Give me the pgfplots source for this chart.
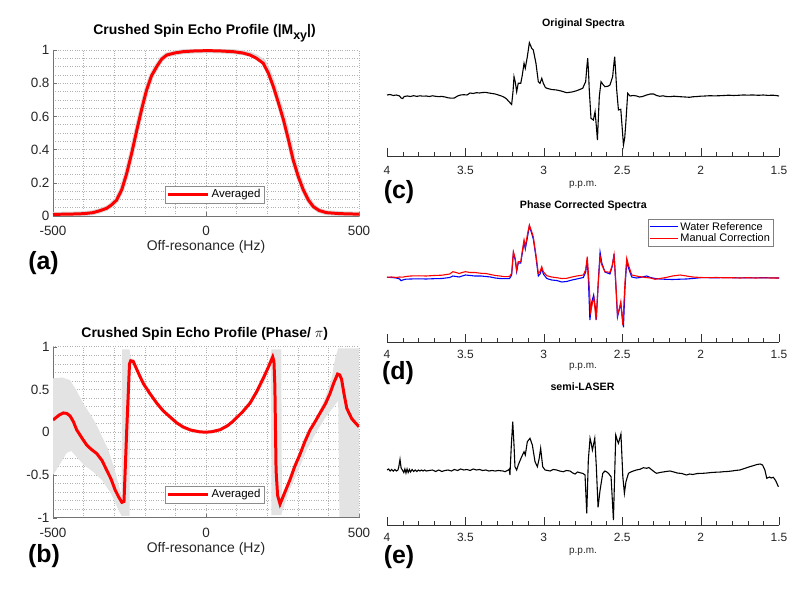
\documentclass[border=0pt]{standalone}
\usepackage{fontspec}
\setmainfont{Liberation Sans}
\usepackage{pgfplots}
\pgfplotsset{compat=1.18}
\definecolor{tickgray}{gray}{0.15}
\definecolor{mred}{rgb}{1,0,0}
\definecolor{mblue}{rgb}{0,0,1}
\pgfplotsset{
  profax/.style={
    scale only axis, width=306bp,
    xmin=-500, xmax=500,
    axis x line*=bottom, axis y line*=left, axis line style={-, black!55},
    xtick={-500,0,500}, xticklabels={-500,0,500},
    minor xtick={-400,-300,-200,-100,100,200,300,400},
    tick align=inside, major tick length=4bp, minor tick length=0bp,
    tick style={black!55},
    grid=both, major grid style={dotted, black!30}, minor grid style={dotted, black!30},
    ticklabel style={font=\fontsize{13.5}{15}\selectfont, text=tickgray},
    xticklabel style={anchor=center, yshift=-15bp},
    xlabel={Off-resonance (Hz)},
    xlabel style={font=\fontsize{14}{16}\selectfont, text=tickgray, at={(axis description cs:0.5,0)}, anchor=center, yshift=-31bp},
    legend style={font=\fontsize{11.5}{13}\selectfont, draw=black!45, fill=white, anchor=south, inner sep=1.5bp},
    legend cell align=left,
    legend image code/.code={\draw[##1] (0bp,0bp) -- (40bp,0bp);},
  },
  specax/.style={
    scale only axis, width=392bp, xmin=1.5, xmax=4, x dir=reverse, ymin=0,
    axis x line=bottom, axis y line=none, axis line style={-, black!80},
    ytick=\empty,
    xtick={1.5,2,2.5,3,3.5,4}, xticklabels={1.5,2,2.5,3,3.5,4},
    minor xtick={1.6,1.7,1.8,1.9,2.1,2.2,2.3,2.4,2.6,2.7,2.8,2.9,3.1,3.2,3.3,3.4,3.6,3.7,3.8,3.9},
    tick align=inside, major tick length=7.5bp, minor tick length=4bp, tick style={black!80},
    ticklabel style={font=\fontsize{12}{14}\selectfont, text=tickgray},
    xlabel={p.p.m.},
    xlabel style={font=\fontsize{10}{12}\selectfont, text=tickgray, at={(axis description cs:0.5,0)}, anchor=center},
  },
}
\begin{document}
\begin{tikzpicture}
\path[use as bounding box] (0,0) rectangle (808bp,590bp);

% ---------- (a) ----------
\begin{axis}[profax, at={(53bp,374bp)}, anchor=south west, height=166bp,
  ymin=0, ymax=1,
  ytick={0,0.2,0.4,0.6,0.8,1}, yticklabels={0,0.2,0.4,0.6,0.8,1},
  minor ytick={0.05,0.1,0.15,0.25,0.3,0.35,0.45,0.5,0.55,0.65,0.7,0.75,0.85,0.9,0.95},
  legend style={at={(0.528,0.078)}}]
\addplot[gray!30, line width=5pt, forget plot] coordinates {
(-500,0.01) (-450,0.011) (-400,0.014) (-370,0.02) (-350,0.03) (-325,0.046) (-310,0.065) (-292,0.096) (-275,0.16) (-259,0.257) (-242,0.385) (-226,0.518) (-210,0.645) (-194,0.76) (-178,0.845) (-161,0.90) (-145,0.945) (-128,0.97) (-100,0.983) (-74,0.99) (-40,0.994) (0,0.996) (40,0.995) (89,0.99) (120,0.984) (144,0.974) (165,0.957) (187,0.93) (204,0.87) (220,0.79) (237,0.69) (253,0.59) (270,0.465) (285,0.345) (302,0.24) (318,0.16) (335,0.097) (351,0.057) (370,0.033) (394,0.02) (440,0.014) (500,0.011)};
\addplot[mred, line width=3pt] coordinates {
(-500,0.01) (-450,0.011) (-400,0.014) (-370,0.02) (-350,0.03) (-325,0.046) (-310,0.065) (-292,0.096) (-275,0.16) (-259,0.257) (-242,0.385) (-226,0.518) (-210,0.645) (-194,0.76) (-178,0.845) (-161,0.90) (-145,0.945) (-128,0.97) (-100,0.983) (-74,0.99) (-40,0.994) (0,0.996) (40,0.995) (89,0.99) (120,0.982) (144,0.97) (165,0.95) (187,0.92) (204,0.86) (220,0.78) (237,0.68) (253,0.58) (270,0.455) (285,0.337) (302,0.235) (318,0.157) (335,0.095) (351,0.056) (370,0.033) (394,0.02) (440,0.014) (500,0.011)};
\addlegendentry{Averaged}
\end{axis}

% ---------- (b) ----------
\begin{axis}[profax, at={(53bp,72.3bp)}, anchor=south west, height=171bp,
  ymin=-1, ymax=1,
  ytick={-1,-0.5,0,0.5,1}, yticklabels={-1,-0.5,0,0.5,1},
  minor ytick={-0.9,-0.8,-0.7,-0.6,-0.4,-0.3,-0.2,-0.1,0.1,0.2,0.3,0.4,0.6,0.7,0.8,0.9},
  legend style={at={(0.528,0.086)}}]
\addplot[draw=none, fill=gray!22, forget plot] coordinates {
(-500,0.63) (-470,0.64) (-445,0.61) (-425,0.50) (-400,0.33) (-380,0.22) (-360,0.10) (-340,-0.05) (-320,-0.20) (-300,-0.42) (-285,-0.62) (-276,-0.75) (-274,0.97) (-250,0.97) (-246,0.87) (-238,0.85) (-220,0.71) (-200,0.57) (-160,0.36) (-120,0.20) (-80,0.08) (-40,0.025) (0,0.015) (40,0.04) (80,0.12) (120,0.26) (160,0.46) (190,0.67) (212,0.90) (214,0.97) (246,0.97) (248,-0.77) (270,-0.57) (300,-0.31) (330,-0.05) (360,0.16) (390,0.41) (410,0.62) (422,0.86) (432,0.98) (500,0.98)
(500,-0.99) (436,-0.99) (432,0.37) (420,0.31) (390,0.17) (360,0.0) (330,-0.20) (300,-0.46) (270,-0.70) (250,-0.92) (246,-0.97) (214,-0.97) (212,0.82) (190,0.58) (160,0.40) (120,0.22) (80,0.09) (40,0.01) (0,-0.015) (-40,-0.01) (-80,0.045) (-120,0.16) (-160,0.32) (-200,0.54) (-220,0.66) (-238,0.80) (-248,0.80) (-250,-0.98) (-276,-0.98) (-290,-0.88) (-310,-0.72) (-340,-0.56) (-370,-0.46) (-400,-0.38) (-420,-0.30) (-440,-0.22) (-455,-0.24) (-475,-0.36) (-500,-0.50)} -- cycle;
\addplot[mred, line width=3pt] coordinates {
(-500,0.143) (-480,0.20) (-466,0.225) (-455,0.22) (-444,0.19) (-433,0.12) (-423,0.03) (-405,-0.07) (-390,-0.15) (-375,-0.20) (-357,-0.25) (-340,-0.33) (-325,-0.44) (-310,-0.55) (-297,-0.675) (-285,-0.76) (-275,-0.82) (-268,-0.81) (-259,0.03) (-250,0.80) (-246,0.835) (-238,0.83) (-222,0.70) (-205,0.57) (-183,0.45) (-161,0.34) (-140,0.25) (-118,0.18) (-96,0.11) (-74,0.06) (-50,0.025) (-20,0.004) (0,0.0) (20,0.006) (47,0.03) (70,0.075) (89,0.13) (120,0.24) (144,0.34) (165,0.47) (187,0.63) (205,0.77) (218,0.88) (222,0.83) (225,0.55) (229,-0.45) (234,-0.74) (242,-0.84) (258,-0.70) (274,-0.56) (290,-0.40) (307,-0.26) (323,-0.11) (340,0.026) (356,0.12) (372,0.22) (390,0.33) (405,0.45) (418,0.58) (430,0.68) (437,0.67) (443,0.62) (451,0.45) (460,0.28) (468,0.22) (476,0.16) (488,0.11) (500,0.064)};
\addlegendentry{Averaged}
\end{axis}

% ---------- (c) ----------
\begin{axis}[specax, at={(387bp,434bp)}, anchor=south west, height=124bp, ymax=124,
  xticklabel style={anchor=center, yshift=-14bp},
  xlabel style={yshift=-29bp}]
\addplot[black, line width=1.1pt] coordinates {
(4.00,61) (3.98,61.5) (3.96,60.5) (3.94,61) (3.92,60) (3.91,58) (3.90,57.5) (3.89,59.5) (3.87,60) (3.85,59.5) (3.83,60.3) (3.81,59.6) (3.79,60.2) (3.77,59.8) (3.75,60) (3.73,59.5) (3.71,60.2) (3.69,59.7) (3.67,59.3) (3.65,59.6) (3.63,59) (3.61,58.2) (3.59,57.8) (3.57,58) (3.55,60) (3.53,61) (3.51,61.3) (3.49,61) (3.47,63) (3.45,62.5) (3.43,63.3) (3.41,63) (3.39,63.5) (3.37,63.6) (3.35,63) (3.33,62.5) (3.31,62) (3.29,61) (3.27,60) (3.25,58.5) (3.237,57) (3.22,54) (3.205,51.5) (3.196,65) (3.190,79.3) (3.182,74) (3.173,64.3) (3.163,72.7) (3.147,72.7) (3.138,80) (3.126,92.7) (3.118,87.7) (3.105,99.3) (3.092,113.3) (3.077,107.7) (3.067,106) (3.050,92.7) (3.035,74.3) (3.024,72.7) (3.013,77.7) (3.003,72.7) (2.99,68.5) (2.98,67.7) (2.95,66.5) (2.918,66) (2.89,65) (2.854,63.3) (2.82,64) (2.790,65.3) (2.752,67.7) (2.733,74.3) (2.725,90) (2.720,97.7) (2.715,85) (2.710,66) (2.699,37.7) (2.684,36) (2.673,44.3) (2.665,30) (2.658,16) (2.652,38) (2.646,59.3) (2.635,74.3) (2.62,71) (2.610,69.3) (2.59,69.8) (2.578,71) (2.561,79.3) (2.553,92) (2.548,99.3) (2.542,85) (2.535,66) (2.524,46) (2.509,46.7) (2.500,28) (2.492,11) (2.484,18) (2.477,32.7) (2.465,62.7) (2.450,60) (2.43,60.5) (2.408,60) (2.39,59) (2.37,59.5) (2.344,61) (2.32,62) (2.30,62) (2.28,60.5) (2.26,59.7) (2.24,60.2) (2.22,59.5) (2.195,59.3) (2.17,59.8) (2.15,59.5) (2.12,59.2) (2.10,59) (2.07,58.7) (2.05,59.2) (2.02,59.5) (2.00,59.8) (1.97,60) (1.94,60.3) (1.91,60.1) (1.876,60.3) (1.85,60.5) (1.82,60.8) (1.79,60.5) (1.76,60.7) (1.73,61) (1.70,60.9) (1.664,61) (1.63,60.7) (1.60,61) (1.57,60.6) (1.54,60.8) (1.52,60.5) (1.50,60)};
\end{axis}

% ---------- (d) ----------
\begin{axis}[specax, at={(387bp,248bp)}, anchor=south west, height=127bp, ymax=127,
  xticklabel style={anchor=center, yshift=-12bp},
  xlabel style={yshift=-25bp},
  legend style={at={(0.985,0.969)}, anchor=north east, font=\fontsize{11}{12.5}\selectfont, draw=black!50, fill=white, inner sep=1bp, row sep=-1.8bp},
  legend cell align=left,
  legend image code/.code={\draw[#1] (0bp,0bp) -- (28bp,0bp);}]
\addplot[mblue, line width=1.1pt] coordinates {
(4.00,64.7) (3.97,64.5) (3.94,64) (3.92,63) (3.91,61.3) (3.90,62) (3.88,62.8) (3.85,63) (3.80,63.2) (3.75,63) (3.70,63.3) (3.65,63.5) (3.60,64.5) (3.58,66) (3.56,65.5) (3.54,65) (3.52,66) (3.50,67) (3.47,66.5) (3.44,66) (3.40,66) (3.37,65.5) (3.34,65) (3.31,64) (3.28,63.5) (3.25,63.3) (3.22,63.3) (3.216,64) (3.205,67) (3.194,89) (3.182,82) (3.173,70.5) (3.163,79) (3.147,79) (3.138,88) (3.126,100) (3.118,93) (3.105,104) (3.092,116) (3.077,108.5) (3.067,103) (3.050,85) (3.035,66) (3.024,68) (3.013,73.5) (3.003,68) (2.981,63.5) (2.95,62) (2.918,61.5) (2.885,60) (2.854,60.5) (2.82,62) (2.790,63) (2.748,64.5) (2.733,70) (2.723,82) (2.715,60) (2.706,22) (2.694,40) (2.682,47) (2.672,35) (2.665,22.5) (2.652,62) (2.641,89.7) (2.630,79) (2.610,70) (2.578,68) (2.563,76) (2.552,88) (2.541,58) (2.530,25) (2.518,33) (2.509,38) (2.492,14.7) (2.482,55) (2.471,80.3) (2.460,74) (2.439,65) (2.41,64) (2.386,64.5) (2.344,66) (2.32,64.5) (2.29,63.5) (2.26,63) (2.22,62.7) (2.18,62.5) (2.13,62.8) (2.09,63) (2.05,63.5) (2.00,64.3) (1.95,64.3) (1.90,64.2) (1.85,64.4) (1.80,64.3) (1.75,64.1) (1.70,64.3) (1.65,64.1) (1.60,64.3) (1.55,64.1) (1.50,64)};
\addlegendentry{Water Reference}
\addplot[mred, line width=1.1pt] coordinates {
(4.00,64.7) (3.97,65) (3.94,64.5) (3.92,65) (3.90,64.8) (3.88,65.5) (3.85,66) (3.80,66.2) (3.75,66) (3.70,66.5) (3.65,66.8) (3.60,68) (3.58,70.3) (3.56,69.5) (3.54,68.5) (3.52,69.5) (3.50,70.3) (3.47,69.5) (3.44,69.5) (3.40,68.7) (3.37,68.5) (3.34,67.5) (3.31,66.5) (3.28,66) (3.25,65.3) (3.22,65.5) (3.216,66) (3.205,68.7) (3.194,90.3) (3.182,83.7) (3.173,72) (3.163,80.3) (3.147,80.3) (3.138,90) (3.126,102) (3.118,95.3) (3.105,107) (3.092,117) (3.077,110.3) (3.067,105.3) (3.050,87) (3.035,68.7) (3.024,70.3) (3.013,75.3) (3.003,70.3) (2.981,66.3) (2.95,65) (2.918,64.3) (2.885,63.5) (2.854,63.7) (2.82,65) (2.790,66) (2.748,67) (2.733,72) (2.723,85.3) (2.712,60.3) (2.701,30.3) (2.688,40.3) (2.680,43.7) (2.667,22) (2.652,60.3) (2.641,85.3) (2.630,77) (2.610,70.3) (2.578,69.7) (2.563,77) (2.552,87) (2.541,60.3) (2.530,27) (2.518,33.7) (2.509,40.3) (2.496,17) (2.482,60.3) (2.471,83.7) (2.460,77) (2.439,67) (2.41,66) (2.386,65.3) (2.35,64.5) (2.32,64) (2.29,62.7) (2.26,63.5) (2.22,64.5) (2.18,66) (2.13,67) (2.09,66) (2.05,65) (2.00,64.5) (1.95,64.3) (1.90,64.5) (1.85,64.2) (1.80,64.3) (1.75,64) (1.70,64.3) (1.65,64) (1.60,64.2) (1.55,64) (1.50,64)};
\addlegendentry{Manual Correction}
\end{axis}

% ---------- (e) ----------
\begin{axis}[specax, at={(387bp,65bp)}, anchor=south west, height=128bp, ymax=128,
  xticklabel style={anchor=center, yshift=-12bp},
  xlabel style={yshift=-27bp}]
\addplot[black, line width=1.1pt] coordinates {
(4.00,55) (3.99,56) (3.98,54) (3.97,55.5) (3.96,53.8) (3.95,55.5) (3.94,54) (3.93,55) (3.925,58) (3.917,65.7) (3.91,57) (3.90,54.5) (3.893,52.5) (3.886,56) (3.879,52) (3.872,56) (3.865,52.5) (3.857,55.5) (3.85,53) (3.84,55.5) (3.83,53.5) (3.82,55) (3.81,53.5) (3.80,55) (3.79,54) (3.78,55) (3.77,54) (3.76,55) (3.75,54) (3.73,54.5) (3.71,55) (3.69,53.5) (3.67,55) (3.65,53.5) (3.63,54.5) (3.61,55) (3.59,54) (3.57,55.5) (3.55,54.5) (3.53,56) (3.51,55) (3.49,55.5) (3.47,54.5) (3.45,56) (3.43,55) (3.41,55.5) (3.39,54.5) (3.37,55) (3.35,54) (3.33,54.5) (3.31,54) (3.29,54.5) (3.279,54.3) (3.26,54) (3.247,53.3) (3.226,55) (3.22,56) (3.216,50) (3.207,80) (3.198,103.3) (3.19,80) (3.184,58.3) (3.173,55) (3.163,60) (3.141,68.3) (3.126,73.3) (3.118,70) (3.105,83.3) (3.088,86.7) (3.073,80) (3.056,63.3) (3.041,58.3) (3.030,66) (3.020,76.7) (3.007,58.3) (2.992,55) (2.975,54.5) (2.960,54) (2.94,55.5) (2.918,55) (2.90,54) (2.876,53.3) (2.855,54.5) (2.833,54) (2.815,52) (2.801,51) (2.785,53) (2.769,52.3) (2.75,51.5) (2.737,50) (2.726,11.7) (2.716,65) (2.705,86.7) (2.698,82) (2.690,75) (2.675,86.7) (2.665,58.3) (2.654,17.7) (2.641,35) (2.624,51.7) (2.610,54) (2.598,53) (2.588,51.7) (2.571,48.3) (2.556,5) (2.541,90) (2.530,84) (2.524,81.7) (2.508,91) (2.496,48.3) (2.486,31.7) (2.476,43.3) (2.460,51.7) (2.445,53) (2.429,54) (2.41,55) (2.386,55.7) (2.365,57.3) (2.344,56.7) (2.33,57.5) (2.31,55) (2.29,52.5) (2.28,51.7) (2.26,52.5) (2.24,53) (2.22,53.5) (2.195,54) (2.17,53) (2.15,52) (2.12,51.5) (2.09,50) (2.07,51) (2.05,50.5) (2.02,51.5) (1.983,51.7) (1.96,52) (1.93,52.5) (1.90,52.8) (1.87,53) (1.855,53.3) (1.83,53.5) (1.80,54) (1.78,54.5) (1.75,55) (1.72,56.5) (1.687,58.3) (1.66,59.5) (1.64,60.5) (1.62,61) (1.605,60) (1.59,55) (1.578,46.7) (1.56,48) (1.55,47) (1.536,47.7) (1.52,44) (1.504,38.3)};
\end{axis}

% titles
\node[font=\bfseries\fontsize{14}{16}\selectfont, inner sep=0pt] at (204.5bp,557bp) {Crushed Spin Echo Profile (|M\raisebox{-5bp}{\fontsize{12.5}{13}\selectfont xy}|)};
\node[font=\bfseries\fontsize{14}{16}\selectfont, inner sep=0pt] at (204.7bp,255.7bp) {Crushed Spin Echo Profile (Phase/ $\pi$)};
\node[font=\bfseries\fontsize{10.7}{12}\selectfont, inner sep=0pt] at (583.3bp,566.7bp) {Original Spectra};
\node[font=\bfseries\fontsize{10.7}{12}\selectfont, inner sep=0pt] at (583.3bp,384bp) {Phase Corrected Spectra};
\node[font=\bfseries\fontsize{10.7}{12}\selectfont, inner sep=0pt] at (582.5bp,203bp) {semi-LASER};
% panel labels
\node[font=\bfseries\fontsize{25}{27}\selectfont, inner sep=0pt] at (43.5bp,327bp) {(a)};
\node[font=\bfseries\fontsize{25}{27}\selectfont, inner sep=0pt] at (44bp,34bp) {(b)};
\node[font=\bfseries\fontsize{25}{27}\selectfont, inner sep=0pt] at (399bp,398bp) {(c)};
\node[font=\bfseries\fontsize{25}{27}\selectfont, inner sep=0pt] at (398bp,217bp) {(d)};
\node[font=\bfseries\fontsize{25}{27}\selectfont, inner sep=0pt] at (399bp,33bp) {(e)};
\end{tikzpicture}
\end{document}
